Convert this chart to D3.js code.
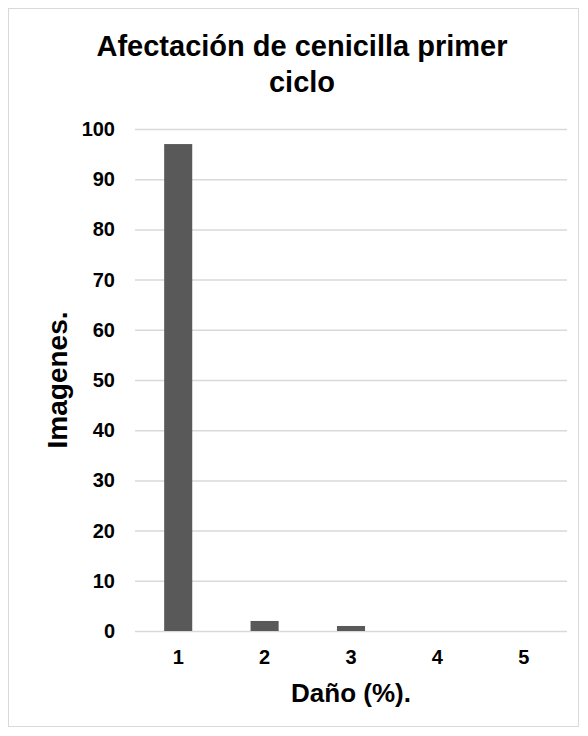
<!DOCTYPE html>
<html>
<head>
<meta charset="utf-8">
<title>Afectación de cenicilla primer ciclo</title>
<style>
  body { margin: 0; background: #fff; }
  text { font-family: "Liberation Sans", Arial, sans-serif; font-weight: bold; fill: #000; }
  .grid line { stroke: #d9d9d9; stroke-width: 1.5; }
  .grid path { display: none; }
  .bar { fill: #595959; }
</style>
<script src="https://d3js.org/d3.v7.min.js"></script>
</head>
<body>
<svg id="chart" width="588" height="736"></svg>
<script>
// data
var categories = ["1", "2", "3", "4", "5"];
var values = [97, 2, 1, 0, 0];
var yTicks = [0, 10, 20, 30, 40, 50, 60, 70, 80, 90, 100];

var svg = d3.select("#chart");

// outer frame
svg.append("rect")
    .attr("x", 8.5).attr("y", 8.5)
    .attr("width", 570).attr("height", 718)
    .attr("fill", "#fff")
    .attr("stroke", "#d9d9d9")
    .attr("stroke-width", 1);

var margin = {top: 129, right: 21, bottom: 105, left: 135},
    width = 588 - margin.left - margin.right,
    height = 736 - margin.top - margin.bottom;

var g = svg.append("g")
    .attr("transform", "translate(" + margin.left + "," + margin.top + ")");

var x = d3.scaleBand().domain(categories).range([0, width]).paddingInner(0.675).paddingOuter(0.3375);
var y = d3.scaleLinear().domain([0, 100]).range([height, 0]);

// gridlines
g.append("g")
    .attr("class", "grid")
    .call(d3.axisLeft(y).tickValues(yTicks).tickSize(-width).tickFormat(""));

// bars
g.selectAll(".bar")
  .data(values)
  .enter().append("rect")
    .attr("class", "bar")
    .attr("x", function(d, i) { return x(categories[i]); })
    .attr("y", function(d) { return y(d); })
    .attr("width", x.bandwidth())
    .attr("height", function(d) { return height - y(d); });

// y tick labels
var yAxis = g.append("g")
    .call(d3.axisLeft(y).tickValues(yTicks).tickSize(0).tickPadding(20));
yAxis.select(".domain").remove();
yAxis.selectAll("text").style("font-size", "20px").attr("fill", "#000");

// x tick labels
var xAxis = g.append("g")
    .attr("transform", "translate(0," + height + ")")
    .call(d3.axisBottom(x).tickSize(0).tickPadding(19));
xAxis.select(".domain").remove();
xAxis.selectAll("text").style("font-size", "20px").attr("fill", "#000");

// title
var title = svg.append("text")
    .attr("text-anchor", "middle")
    .style("font-size", "29px");
title.append("tspan").attr("x", 302).attr("y", 56).text("Afectación de cenicilla primer");
title.append("tspan").attr("x", 302).attr("y", 92).text("ciclo");

// axis titles
svg.append("text")
    .attr("x", margin.left + width / 2)
    .attr("y", 702)
    .attr("text-anchor", "middle")
    .style("font-size", "26px")
    .text("Daño (%).");

svg.append("text")
    .attr("transform", "translate(67," + (margin.top + height / 2) + ") rotate(-90)")
    .attr("text-anchor", "middle")
    .style("font-size", "28px")
    .text("Imagenes.");
</script>
</body>
</html>
